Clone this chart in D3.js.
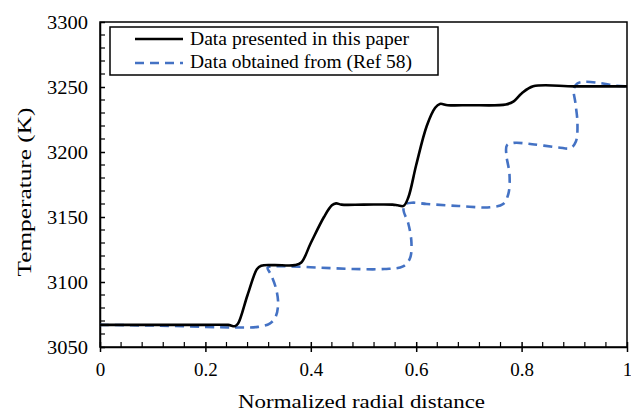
<!DOCTYPE html>
<html><head><meta charset="utf-8">
<script src="https://cdn.jsdelivr.net/npm/d3@7"></script>
<style>body{margin:0;background:#fff}svg{display:block}</style>
</head><body><svg id="c" width="631" height="413"></svg>
<script>
const seriesNames = ["Data presented in this paper", "Data obtained from (Ref 58)"];
const presentX = [0, 0.10, 0.20, 0.243, 0.256, 0.262, 0.28, 0.298, 0.306, 0.33, 0.37, 0.382, 0.40, 0.425, 0.44, 0.448, 0.458, 0.50, 0.555, 0.565, 0.576, 0.585, 0.60, 0.62, 0.636, 0.645, 0.66, 0.70, 0.77, 0.785, 0.80, 0.822, 0.90, 1.0];
const presentY = [3067, 3067, 3067, 3067, 3066, 3068, 3090, 3110, 3112.5, 3113, 3113, 3115, 3130, 3150, 3159, 3160.5, 3159.5, 3159.5, 3159.5, 3159, 3158.5, 3165, 3190, 3220, 3234, 3237, 3236, 3236, 3236.5, 3239, 3245, 3250.5, 3250.5, 3250.5];
const refX = [0, 0.10, 0.20, 0.26, 0.30, 0.322, 0.333, 0.338, 0.334, 0.324, 0.318, 0.326, 0.36, 0.42, 0.48, 0.54, 0.575, 0.588, 0.591, 0.585, 0.576, 0.578, 0.592, 0.62, 0.68, 0.74, 0.765, 0.775, 0.777, 0.771, 0.772, 0.785, 0.82, 0.87, 0.893, 0.903, 0.906, 0.902, 0.899, 0.905, 0.92, 0.95, 0.98, 1.0];
const refY = [3067, 3066.5, 3065.5, 3065, 3065.5, 3068, 3073, 3083, 3095, 3106, 3111, 3112, 3112, 3111, 3110, 3110, 3112, 3118, 3130, 3145, 3155, 3159.5, 3161, 3160, 3158.5, 3157.5, 3160, 3168, 3183, 3198, 3205, 3207, 3206, 3203.5, 3203, 3208, 3222, 3238, 3248, 3252.5, 3254, 3253, 3251, 3250.5];
const xTicks = [0, 0.2, 0.4, 0.6, 0.8, 1];
const yTicks = [3050, 3100, 3150, 3200, 3250, 3300];

const FONT = "'Liberation Serif', 'Times New Roman', Times, 'Nimbus Roman', 'DejaVu Serif', serif";
const svg = d3.select("#c").attr("font-family", FONT);
const L = 100, R = 627, T = 22, B = 347;
const x = d3.scaleLinear().domain([0, 1]).range([L, R]);
const y = d3.scaleLinear().domain([3050, 3300]).range([B, T]);

// frame
svg.append("rect").attr("x", L).attr("y", T).attr("width", R - L).attr("height", B - T)
  .attr("fill", "none").attr("stroke", "#000").attr("stroke-width", 1.5);

// x axis
const xAxis = d3.axisBottom(x).tickValues(xTicks).tickFormat(d3.format("~g")).tickSizeInner(5).tickSizeOuter(0).tickPadding(11);
const gx = svg.append("g").attr("transform", `translate(0,${B})`).call(xAxis)
  .attr("font-family", FONT).attr("font-size", 19);
gx.select(".domain").attr("stroke-width", 1.5);
gx.selectAll(".tick line").attr("y1", -5).attr("stroke-width", 1.5);
gx.selectAll(".tick text").attr("fill", "#000");
const xMinor = d3.range(0, 1.0001, 0.04).filter(v => !xTicks.some(t => Math.abs(t - v) < 1e-6));
svg.append("g").selectAll("line").data(xMinor).join("line")
  .attr("x1", d => x(d)).attr("x2", d => x(d)).attr("y1", B).attr("y2", B - 5)
  .attr("stroke", "#000").attr("stroke-width", 1.2);

// y axis
const yAxis = d3.axisLeft(y).tickValues(yTicks).tickFormat(d3.format("d")).tickSizeInner(6).tickSizeOuter(0).tickPadding(6);
const gy = svg.append("g").attr("transform", `translate(${L},0)`).call(yAxis)
  .attr("font-family", FONT).attr("font-size", 19);
gy.select(".domain").attr("stroke-width", 1.5);
gy.selectAll(".tick line").attr("x2", 5).attr("stroke-width", 1.5);
gy.selectAll(".tick text").attr("fill", "#000").attr("textLength", 41).attr("lengthAdjust", "spacingAndGlyphs");
const yMinor = d3.range(3050, 3300.1, 10).filter(v => !yTicks.includes(v));
svg.append("g").selectAll("line").data(yMinor).join("line")
  .attr("x1", L).attr("x2", L + 5).attr("y1", d => y(d)).attr("y2", d => y(d))
  .attr("stroke", "#000").attr("stroke-width", 1.2);

// titles
svg.append("text").attr("x", 361.5).attr("y", 408).attr("text-anchor", "middle")
  .attr("font-size", 19).attr("textLength", 247).attr("lengthAdjust", "spacingAndGlyphs")
  .text("Normalized radial distance");
svg.append("text").attr("transform", `translate(31,192) rotate(-90)`).attr("text-anchor", "middle")
  .attr("font-size", 19).attr("textLength", 169).attr("lengthAdjust", "spacingAndGlyphs")
  .text("Temperature (K)");

// lines
const line = d3.line().x(d => x(d[0])).y(d => y(d[1])).curve(d3.curveCatmullRom.alpha(0.5));
const refPts = refX.map((v, i) => [v, refY[i]]);
const presPts = presentX.map((v, i) => [v, presentY[i]]);
svg.append("path").attr("d", line(refPts)).attr("fill", "none").attr("stroke", "#4472C4")
  .attr("stroke-width", 2.6).attr("stroke-dasharray", "9,6");
svg.append("path").attr("d", line(presPts)).attr("fill", "none").attr("stroke", "#000")
  .attr("stroke-width", 2.6);

// legend
const lg = svg.append("g");
lg.append("rect").attr("x", 110).attr("y", 27).attr("width", 328).attr("height", 48)
  .attr("fill", "#fff").attr("stroke", "#000").attr("stroke-width", 1.5);
lg.append("line").attr("x1", 135).attr("x2", 183).attr("y1", 39).attr("y2", 39)
  .attr("stroke", "#000").attr("stroke-width", 2.6);
lg.append("line").attr("x1", 135).attr("x2", 183).attr("y1", 63).attr("y2", 63)
  .attr("stroke", "#4472C4").attr("stroke-width", 2.6).attr("stroke-dasharray", "9,6");
lg.append("text").attr("x", 190).attr("y", 45).attr("font-size", 18)
  .attr("textLength", 219).attr("lengthAdjust", "spacingAndGlyphs").text(seriesNames[0]);
lg.append("text").attr("x", 190).attr("y", 68).attr("font-size", 18)
  .attr("textLength", 222).attr("lengthAdjust", "spacingAndGlyphs").text(seriesNames[1]);
</script></body></html>
